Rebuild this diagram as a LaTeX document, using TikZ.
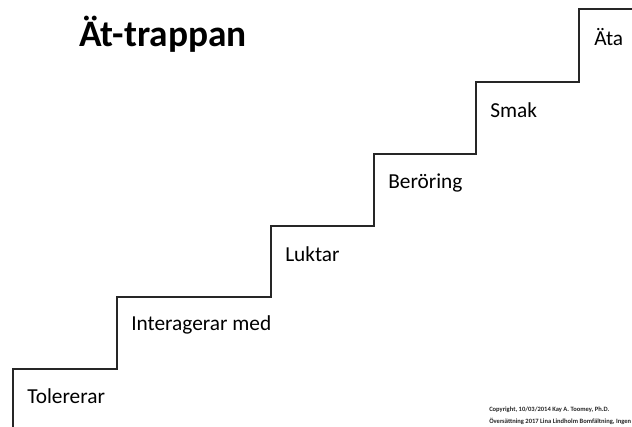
\documentclass[tikz,border=0pt]{standalone}
\usepackage{fontspec}
\setmainfont{Carlito}
\tikzset{
  stair/.style={line width=1.6pt, draw=black!85, line join=miter},
  steplabel/.style={font=\fontsize{16}{18}\selectfont, anchor=west, inner sep=0pt, text=black},
  titlelabel/.style={font=\bfseries\fontsize{28}{32}\selectfont, anchor=west, inner sep=0pt},
  copylabel/.style={font=\bfseries\fontsize{4.9}{5.5}\selectfont, anchor=west, inner sep=0pt, text=black!85, align=left}
}
\begin{document}
\begin{tikzpicture}[x=0.75pt,y=-0.75pt]
\useasboundingbox (0,0) rectangle (632,427);
\fill[white] (0,0) rectangle (632,427);
\coordinate (s0) at (13,427);
\coordinate (s1) at (13,369);
\coordinate (s2) at (117,369);
\coordinate (s3) at (117,297);
\coordinate (s4) at (271,297);
\coordinate (s5) at (271,226);
\coordinate (s6) at (374,226);
\coordinate (s7) at (374,154);
\coordinate (s8) at (476,154);
\coordinate (s9) at (476,82);
\coordinate (s10) at (579,82);
\coordinate (s11) at (579,9);
\coordinate (s12) at (633,9);
\draw[stair] (s0) -- (s1) -- (s2) -- (s3) -- (s4) -- (s5) -- (s6) -- (s7) -- (s8) -- (s9) -- (s10) -- (s11) -- (s12);
\node[titlelabel] (title) at (79,34) {Ät-trappan};
\node[steplabel] (l1) at (27,396) {Tolererar};
\node[steplabel] (l2) at (131,325) {Interagerar med};
\node[steplabel] (l3) at (285,254) {Luktar};
\node[steplabel] (l4) at (388,183) {Beröring};
\node[steplabel] (l5) at (490,110) {Smak};
\node[steplabel] (l6) at (594,37) {Äta};
\node[copylabel] (c1) at (489,410) {Copyright, 10/03/2014 Kay A. Toomey, Ph.D.};
\node[copylabel] (c2) at (489,421) {Översättning 2017 Lina Lindholm Bomfältning, Ingen};
\end{tikzpicture}
\end{document}
